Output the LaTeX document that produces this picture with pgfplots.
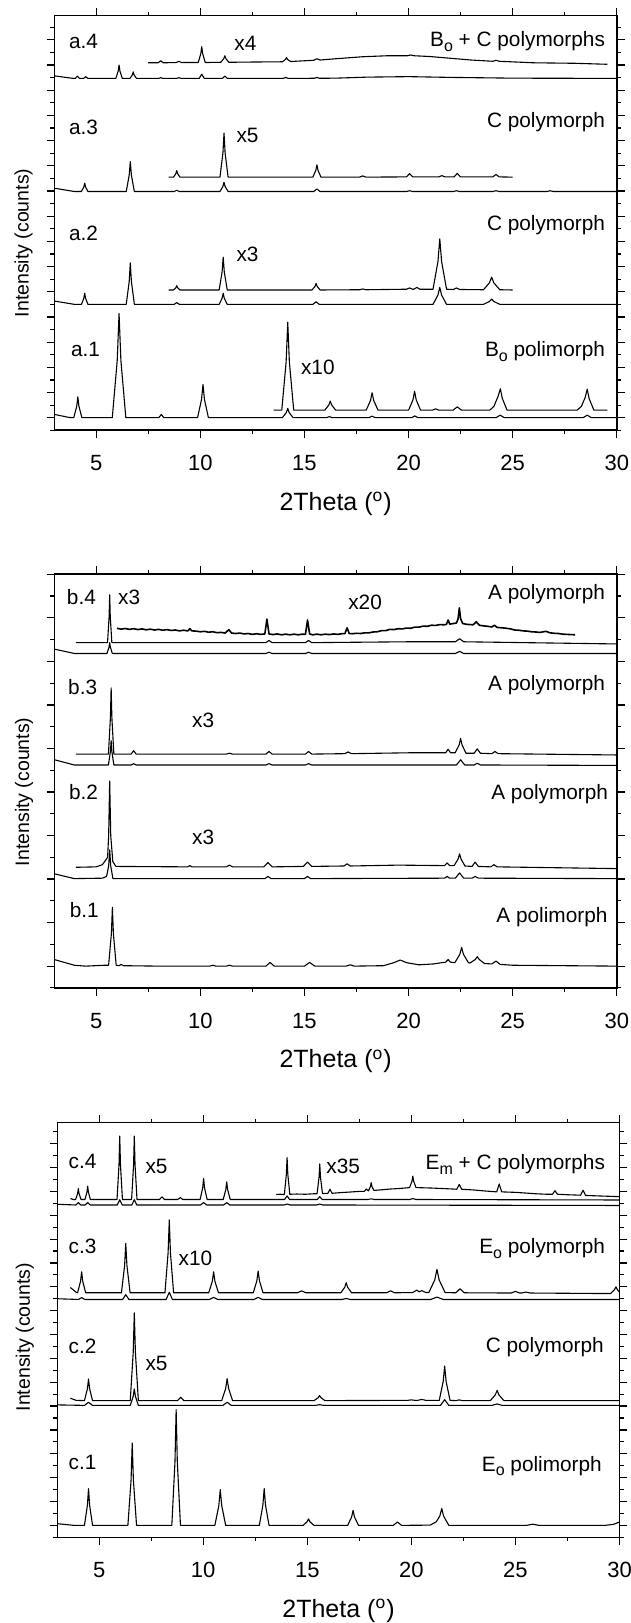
\documentclass[border=0pt]{standalone}
\usepackage{fontspec}
\setmainfont{Liberation Sans}
\usepackage{pgfplots}
\pgfplotsset{compat=1.18}
\newcommand{\ann}{\fontsize{10.4}{12}\selectfont}
\newcommand{\sub}[1]{\raisebox{-0.42ex}{\fontsize{8}{8}\selectfont #1}}
\tikzset{lbl/.style={font=\ann, inner sep=0pt}}
\pgfplotsset{
  xrd/.style={
    scale only axis, width=281.15pt, height=207.3pt,
    xmin=3, xmax=30, xtick={5,10,15,20,25,30}, minor x tick num=1,
    ymin=-0.5, minor y tick num=1, yticklabels={},
    tick align=outside, major tick length=3.9pt, minor tick length=2pt,
    axis line style={line width=0.8pt},
    every tick/.append style={line width=0.6pt, black},
    tick label style={font=\fontsize{11}{12}\selectfont},
    xticklabel style={anchor=base, yshift=-16.4pt},
    /pgf/number format/assume math mode=true,
    xlabel={2Theta (\textsuperscript{o})},
    xlabel style={font=\fontsize{12.5}{14}\selectfont, at={(axis description cs:0.5,0)}, anchor=base, yshift=-40pt},
    ylabel={Intensity (counts)},
    ylabel style={font=\fontsize{9.75}{11}\selectfont, anchor=center},
    clip=false, anchor=south west,
  },
  xrdline/.style={black, line width=0.55pt, no marks, line join=round},
}
\begin{document}
\begin{tikzpicture}
\path[use as bounding box] (0,0) rectangle (315.5pt,811.5pt);
% ---------------- Panel a ----------------
\begin{axis}[xrd, at={(27.25pt,596.35pt)}, ymax=15.96, ytick={-1,...,16},
  ylabel style={at={(axis description cs:-0.055,0.452)}}]
\addplot[xrdline] coordinates {(3.0,0.13)(3.7,0.01)(3.925,0)(4.0675,0.457)(4.12,0.83)(4.1725,0.457)(4.315,0)(5.775,0)(6.0125,2.277)(6.1,4.14)(6.1875,2.277)(6.425,0)(8.01,0)(8.13,0.13)(8.25,0)(9.87,0)(10.06,0.726)(10.13,1.32)(10.2,0.726)(10.39,0)(13.94,0)(14.13,0.2)(14.2,0.37)(14.27,0.2)(14.46,0)(16.05,0)(16.2,0.04)(16.35,0)(18.1,0)(18.25,0.06)(18.4,0)(20.15,0)(20.3,0.07)(20.45,0)(24.2,0)(24.4,0.1)(24.6,0)(28.38,0)(28.58,0.1)(28.78,0)(30,0)};
\addplot[xrdline] coordinates {(13.52,0.30)(13.914,0.30)(14.123,2.22)(14.2,3.79)(14.277,2.22)(14.486,0.30)(15.98,0.30)(16.17,0.50)(16.24,0.66)(16.31,0.50)(16.5,0.30)(17.964,0.30)(18.173,0.68)(18.25,0.99)(18.327,0.68)(18.536,0.30)(20.004,0.30)(20.213,0.71)(20.29,1.05)(20.367,0.71)(20.576,0.30)(21.15,0.30)(21.3,0.35)(21.45,0.30)(22.14,0.30)(22.34,0.43)(22.54,0.30)(23.9,0.30)(24.1,0.45)(24.3,0.85)(24.41,1.15)(24.5,0.77)(24.73,0.30)(28.1,0.30)(28.3,0.45)(28.48,0.8)(28.58,1.13)(28.67,0.76)(28.9,0.30)(29.55,0.30)};
\addplot[xrdline] coordinates {(3.0,4.63)(3.95,4.5)(4.294,4.5)(4.408,4.742)(4.45,4.94)(4.492,4.742)(4.606,4.5)(6.445,4.5)(6.5875,5.4075)(6.64,6.15)(6.6925,5.4075)(6.835,4.5)(8.75,4.5)(8.87,4.57)(8.99,4.5)(10.905,4.5)(11.0475,4.742)(11.1,4.94)(11.1525,4.742)(11.295,4.5)(15.41,4.5)(15.56,4.6)(15.71,4.5)(21.175,4.5)(21.4125,4.8685)(21.5,5.17)(21.5875,4.8685)(21.825,4.5)(23.6,4.5)(23.885,4.6155)(23.99,4.71)(24.095,4.6155)(24.38,4.5)(30,4.5)};
\addplot[xrdline] coordinates {(8.48,5.07)(8.714,5.07)(8.828,5.16)(8.87,5.24)(8.912,5.16)(9.026,5.07)(10.905,5.07)(11.0475,5.785)(11.1,6.37)(11.1525,5.785)(11.295,5.07)(15.365,5.07)(15.5075,5.213)(15.56,5.33)(15.6125,5.213)(15.755,5.07)(17.65,5.08)(17.8,5.11)(17.95,5.08)(19.9,5.1)(20.05,5.15)(20.2,5.1)(20.25,5.1)(20.4,5.17)(20.55,5.1)(21.175,5.1)(21.4125,6.2)(21.5,7.1)(21.5875,6.2)(21.825,5.1)(22.15,5.09)(22.3,5.15)(22.45,5.09)(23.6,5.08)(23.885,5.355)(23.99,5.58)(24.095,5.355)(24.38,5.08)(25.0,5.07)};
\addplot[xrdline] coordinates {(3.0,9.11)(3.95,8.98)(4.294,8.98)(4.408,9.16)(4.45,9.31)(4.492,9.16)(4.606,8.98)(6.445,8.98)(6.5875,9.63)(6.64,10.17)(6.6925,9.63)(6.835,8.98)(8.75,8.98)(8.87,9.03)(8.99,8.98)(10.945,8.98)(11.0875,9.18)(11.14,9.35)(11.1925,9.18)(11.335,8.98)(15.45,8.98)(15.6,9.08)(15.75,8.98)(19.9,8.98)(20.05,9.01)(20.2,8.98)(22.15,8.98)(22.3,9.01)(22.45,8.98)(24.05,8.98)(24.2,9.01)(24.35,8.98)(26.65,8.98)(26.8,9.01)(26.95,8.98)(30,8.98)};
\addplot[xrdline] coordinates {(8.48,9.55)(8.714,9.55)(8.828,9.69)(8.87,9.81)(8.912,9.69)(9.026,9.55)(10.945,9.55)(11.0875,10.51)(11.14,11.30)(11.1925,10.51)(11.335,9.55)(15.405,9.55)(15.5475,9.82)(15.6,10.04)(15.6525,9.82)(15.795,9.55)(17.65,9.55)(17.8,9.6)(17.95,9.55)(19.9,9.56)(20.05,9.69)(20.2,9.56)(21.45,9.56)(21.6,9.61)(21.75,9.56)(22.19,9.56)(22.34,9.70)(22.49,9.56)(24.05,9.56)(24.2,9.66)(24.35,9.56)(25.0,9.55)};
\addplot[xrdline] coordinates {(3.0,13.57)(3.9,13.47)(4.0,13.47)(4.1,13.56)(4.2,13.47)(4.4,13.47)(4.5,13.54)(4.6,13.47)(5.944,13.47)(6.058,13.76)(6.1,14.0)(6.142,13.76)(6.256,13.47)(6.624,13.47)(6.738,13.61)(6.78,13.73)(6.822,13.61)(6.936,13.47)(8.0,13.47)(8.1,13.5)(8.2,13.47)(8.87,13.47)(8.97,13.5)(9.07,13.47)(9.95,13.47)(10.07,13.64)(10.19,13.47)(11.06,13.47)(11.18,13.56)(11.3,13.47)(13.98,13.47)(14.1,13.51)(14.22,13.47)(15.48,13.475)(15.6,13.51)(15.72,13.475)(16.5,13.48)(18,13.52)(20,13.54)(22,13.51)(25,13.48)(30,13.47)};
\addplot[xrdline] coordinates {(7.5,14.09)(7.98,14.09)(8.1,14.17)(8.22,14.09)(8.85,14.1)(8.97,14.15)(9.09,14.1)(9.901,14.1)(10.0245,14.45)(10.07,14.73)(10.1155,14.45)(10.239,14.1)(10.985,14.11)(11.1275,14.25)(11.18,14.37)(11.2325,14.25)(11.375,14.11)(12.5,14.12)(13.945,14.13)(14.0875,14.22)(14.14,14.30)(14.1925,14.22)(14.335,14.14)(15.45,14.19)(15.6,14.25)(15.75,14.2)(16.5,14.25)(17.8,14.33)(19,14.37)(19.95,14.37)(20.1,14.40)(20.25,14.37)(21,14.34)(22,14.27)(23,14.2)(24.05,14.15)(24.2,14.19)(24.35,14.15)(26,14.09)(28,14.07)(29.55,14.03)};
\node[lbl, anchor=base west] at (axis cs:3.68,14.64) {a.4};
\node[lbl, anchor=base west] at (axis cs:11.62,14.57) {x4};
\node[lbl, anchor=base east] at (axis cs:29.45,14.74) {B\sub{o} + C polymorphs};
\node[lbl, anchor=base west] at (axis cs:3.68,11.23) {a.3};
\node[lbl, anchor=base west] at (axis cs:11.72,10.93) {x5};
\node[lbl, anchor=base east] at (axis cs:29.45,11.53) {C polymorph};
\node[lbl, anchor=base west] at (axis cs:3.68,7.03) {a.2};
\node[lbl, anchor=base west] at (axis cs:11.72,6.19) {x3};
\node[lbl, anchor=base east] at (axis cs:29.45,7.42) {C polymorph};
\node[lbl, anchor=base west] at (axis cs:3.78,2.43) {a.1};
\node[lbl, anchor=base west] at (axis cs:14.82,1.73) {x10};
\node[lbl, anchor=base east] at (axis cs:29.45,2.43) {B\sub{o} polimorph};
\end{axis}
% ---------------- Panel b ----------------
\begin{axis}[xrd, at={(27.25pt,317.55pt)}, height=206.8pt, ymax=9.0, ytick={-1,...,9},
  ylabel style={at={(axis description cs:-0.054,0.474)}}]
\addplot[xrdline] coordinates {(3.0,0.15)(3.95,0.02)(4.5,0.0)(5.4,0.02)(5.598,0.02)(5.731,0.74)(5.78,1.35)(5.829,0.74)(5.962,0.02)(6.1,0.01)(6.2,0.04)(6.3,0.01)(8,0)(10.45,0)(10.6,0.02)(10.75,0)(11.25,0)(11.4,0.02)(11.55,0)(13.15,0)(13.35,0.085)(13.55,0)(15.0,0)(15.25,0.085)(15.5,0)(17.0,0)(17.2,0.03)(17.4,0)(18.8,0.01)(19.3,0.08)(19.6,0.14)(19.9,0.08)(20.5,0.03)(21.2,0.05)(21.6,0.08)(21.78,0.09)(21.9,0.15)(22.02,0.09)(22.225,0.08)(22.4625,0.27)(22.55,0.43)(22.6375,0.27)(22.875,0.08)(22.95,0.07)(23.2,0.15)(23.3,0.215)(23.4,0.15)(23.65,0.06)(24.0,0.05)(24.2,0.115)(24.4,0.04)(25,0.02)(30,0.0)};
\addplot[xrdline] coordinates {(3.0,2.12)(3.95,2.01)(5.3,2.02)(5.5,2.06)(5.6,2.3)(5.65,2.67)(5.7,2.3)(5.806,2.01)(13.1,2.01)(13.25,2.06)(13.4,2.01)(15.0,2.01)(15.15,2.06)(15.3,2.01)(21.73,2.02)(21.85,2.06)(21.97,2.02)(22.25,2.02)(22.45,2.14)(22.65,2.02)(23.05,2.02)(23.2,2.06)(23.35,2.02)(30,2.01)};
\addplot[xrdline] coordinates {(4.03,2.27)(5.0,2.28)(5.3,2.33)(5.42,2.41)(5.55,2.5)(5.6,3.0)(5.65,4.25)(5.7,3.0)(5.8,2.4)(5.95,2.29)(9.4,2.28)(9.5,2.31)(9.6,2.28)(11.25,2.28)(11.4,2.32)(11.55,2.28)(13.05,2.28)(13.25,2.38)(13.45,2.28)(14.95,2.29)(15.15,2.39)(15.35,2.29)(16.9,2.3)(17.05,2.35)(17.2,2.3)(19.5,2.32)(21.5,2.31)(21.73,2.31)(21.85,2.37)(21.97,2.31)(22.19,2.31)(22.38,2.46)(22.45,2.58)(22.52,2.46)(22.71,2.30)(23.05,2.29)(23.2,2.39)(23.35,2.29)(23.95,2.28)(24.1,2.33)(24.25,2.28)(30,2.24)};
\addplot[xrdline] coordinates {(3.0,4.74)(3.95,4.62)(5.59,4.62)(5.685,4.93)(5.72,5.18)(5.755,4.93)(5.85,4.62)(6.68,4.62)(6.8,4.65)(6.92,4.62)(13.15,4.62)(13.3,4.65)(13.45,4.62)(15.05,4.62)(15.2,4.65)(15.35,4.62)(22.3,4.62)(22.5,4.74)(22.7,4.62)(23.15,4.62)(23.3,4.66)(23.45,4.62)(30,4.61)};
\addplot[xrdline] coordinates {(4.03,4.87)(5.59,4.87)(5.685,5.71)(5.72,6.39)(5.755,5.71)(5.85,4.87)(6.68,4.87)(6.8,4.95)(6.92,4.87)(11.25,4.87)(11.4,4.89)(11.55,4.87)(13.15,4.87)(13.3,4.93)(13.45,4.87)(15.05,4.87)(15.2,4.93)(15.35,4.87)(16.95,4.88)(17.1,4.92)(17.25,4.88)(20,4.9)(21.5,4.9)(21.78,4.9)(21.9,4.98)(22.02,4.9)(22.24,4.9)(22.43,5.08)(22.5,5.23)(22.57,5.08)(22.76,4.89)(23.15,4.89)(23.3,4.99)(23.45,4.89)(24.0,4.88)(24.15,4.93)(24.3,4.88)(30,4.85)};
\addplot[xrdline] coordinates {(3.0,7.28)(3.97,7.18)(5.52,7.18)(5.615,7.32)(5.65,7.43)(5.685,7.32)(5.78,7.18)(13.15,7.18)(13.3,7.21)(13.45,7.18)(15.05,7.18)(15.2,7.21)(15.35,7.18)(22.25,7.18)(22.45,7.23)(22.65,7.18)(30,7.18)};
\addplot[xrdline] coordinates {(4.03,7.43)(5.546,7.43)(5.622,8.02)(5.65,8.53)(5.678,8.02)(5.754,7.43)(13.15,7.43)(13.3,7.48)(13.45,7.43)(15.05,7.43)(15.2,7.48)(15.35,7.43)(20,7.45)(22.25,7.45)(22.45,7.52)(22.65,7.45)(30,7.40)};
\addplot[xrdline, line width=0.8pt] coordinates {(6.0,7.76)(6.2,7.74)(6.4,7.755)(6.6,7.735)(6.8,7.75)(7.0,7.73)(7.2,7.745)(7.4,7.725)(7.6,7.74)(7.8,7.72)(8.0,7.735)(8.2,7.715)(8.4,7.73)(8.6,7.71)(8.8,7.72)(9.0,7.70)(9.2,7.715)(9.4,7.70)(9.5,7.75)(9.6,7.70)(9.8,7.695)(10.0,7.68)(10.2,7.69)(10.4,7.67)(10.6,7.68)(10.8,7.66)(11.0,7.665)(11.2,7.65)(11.37,7.73)(11.5,7.65)(11.7,7.64)(11.9,7.65)(12.1,7.63)(12.3,7.64)(12.5,7.62)(12.7,7.635)(12.9,7.62)(13.1,7.63)(13.2,7.97)(13.3,7.63)(13.5,7.615)(13.7,7.63)(13.9,7.61)(14.1,7.625)(14.3,7.61)(14.5,7.625)(14.7,7.61)(14.9,7.625)(15.05,7.62)(15.15,7.95)(15.25,7.63)(15.4,7.61)(15.6,7.625)(15.8,7.61)(16.0,7.625)(16.2,7.615)(16.4,7.63)(16.6,7.62)(16.8,7.635)(16.95,7.64)(17.05,7.77)(17.15,7.64)(17.3,7.635)(17.5,7.645)(17.7,7.64)(17.9,7.655)(18.1,7.655)(18.3,7.675)(18.5,7.68)(18.7,7.705)(18.9,7.705)(19.1,7.735)(19.3,7.73)(19.5,7.75)(19.7,7.745)(19.9,7.765)(20.1,7.76)(20.3,7.785)(20.5,7.785)(20.7,7.81)(20.9,7.805)(21.1,7.83)(21.3,7.825)(21.5,7.845)(21.7,7.84)(21.82,7.85)(21.9,7.95)(21.98,7.855)(22.1,7.865)(22.3,7.88)(22.38,7.98)(22.44,8.23)(22.5,7.98)(22.6,7.87)(22.8,7.85)(22.95,7.845)(23.1,7.84)(23.25,7.91)(23.4,7.83)(23.6,7.815)(23.8,7.805)(24.0,7.79)(24.12,7.83)(24.25,7.78)(24.5,7.77)(24.7,7.76)(24.9,7.745)(25.1,7.72)(25.3,7.715)(25.5,7.70)(25.7,7.695)(25.9,7.68)(26.1,7.675)(26.3,7.665)(26.6,7.69)(26.8,7.655)(27.0,7.645)(27.2,7.64)(27.4,7.625)(27.6,7.62)(27.8,7.615)(28.0,7.61)};
\node[lbl, anchor=base west] at (axis cs:3.58,8.31) {b.4};
\node[lbl, anchor=base west] at (axis cs:6.04,8.30) {x3};
\node[lbl, anchor=base west] at (axis cs:17.09,8.18) {x20};
\node[lbl, anchor=base east] at (axis cs:29.45,8.43) {A polymorph};
\node[lbl, anchor=base west] at (axis cs:3.64,6.24) {b.3};
\node[lbl, anchor=base east] at (axis cs:29.45,6.33) {A polymorph};
\node[lbl, anchor=base west] at (axis cs:9.59,5.47) {x3};
\node[lbl, anchor=base west] at (axis cs:3.68,3.83) {b.2};
\node[lbl, anchor=base east] at (axis cs:29.6,3.83) {A polymorph};
\node[lbl, anchor=base west] at (axis cs:9.59,2.80) {x3};
\node[lbl, anchor=base west] at (axis cs:3.72,1.12) {b.1};
\node[lbl, anchor=base east] at (axis cs:29.57,1.01) {A polimorph};
\end{axis}
% ---------------- Panel c ----------------
\begin{axis}[xrd, at={(28.75pt,42.85pt)}, width=281pt, ymax=16.88, ytick={-1,...,17},
  ylabel style={at={(axis description cs:-0.058,0.483)}}]
\addplot[xrdline] coordinates {(3.0,0.07)(3.8,0.0)(4.295,0)(4.4375,0.847)(4.49,1.54)(4.5425,0.847)(4.685,0)(6.382,0)(6.534,1.898)(6.59,3.45)(6.646,1.898)(6.798,0)(8.492,0)(8.644,2.668)(8.7,4.85)(8.756,2.668)(8.908,0)(10.56,0)(10.75,0.825)(10.82,1.5)(10.89,0.825)(11.08,0)(12.696,0)(12.867,0.847)(12.93,1.54)(12.993,0.847)(13.164,0)(14.8,0)(14.99,0.15)(15.06,0.27)(15.13,0.15)(15.32,0)(16.94,0)(17.13,0.35)(17.2,0.63)(17.27,0.35)(17.46,0)(19.13,0)(19.33,0.14)(19.53,0)(20.9,0.01)(21.2,0.15)(21.37,0.4)(21.46,0.71)(21.55,0.39)(21.8,0)(25.53,0)(25.83,0.05)(26.13,0)(29.3,0)(29.7,0.04)(30,0.14)};
\addplot[xrdline] coordinates {(3.0,5.05)(4.3,5.03)(4.49,5.16)(4.68,5.03)(6.495,5.03)(6.6375,5.41)(6.69,5.72)(6.7425,5.41)(6.885,5.03)(10.95,5.03)(11.15,5.16)(11.35,5.03)(15.39,5.03)(15.59,5.06)(15.79,5.03)(21.4,5.03)(21.6,5.27)(21.8,5.03)(23.87,5.03)(24.12,5.09)(24.37,5.03)(30,5.03)};
\addplot[xrdline] coordinates {(3.62,5.33)(3.9,5.24)(4.295,5.23)(4.4375,5.73)(4.49,6.14)(4.5425,5.73)(4.685,5.23)(6.495,5.23)(6.6375,7.25)(6.69,8.91)(6.7425,7.25)(6.885,5.23)(8.77,5.23)(8.92,5.37)(9.07,5.23)(10.89,5.23)(11.08,5.74)(11.15,6.15)(11.22,5.74)(11.41,5.23)(15.33,5.23)(15.52,5.35)(15.59,5.44)(15.66,5.35)(15.85,5.23)(19.8,5.24)(20.0,5.26)(20.2,5.24)(20.3,5.24)(20.5,5.28)(20.7,5.24)(21.34,5.24)(21.53,6.03)(21.6,6.68)(21.67,6.03)(21.86,5.24)(22.15,5.23)(22.3,5.26)(22.45,5.23)(23.795,5.23)(24.0325,5.47)(24.12,5.66)(24.2075,5.47)(24.445,5.23)(30,5.23)};
\addplot[xrdline] coordinates {(3.0,9.5)(4.01,9.47)(4.16,9.55)(4.31,9.47)(6.13,9.47)(6.28,9.67)(6.43,9.47)(8.22,9.47)(8.37,9.77)(8.52,9.47)(10.3,9.47)(10.5,9.56)(10.7,9.47)(12.44,9.47)(12.64,9.56)(12.84,9.47)(16.67,9.47)(16.87,9.51)(17.07,9.47)(20.93,9.47)(21.23,9.57)(21.53,9.47)(30,9.47)};
\addplot[xrdline] coordinates {(3.62,9.97)(3.9,9.77)(3.965,9.75)(4.1075,10.23)(4.16,10.63)(4.2125,10.23)(4.355,9.75)(6.072,9.75)(6.224,10.89)(6.28,11.82)(6.336,10.89)(6.488,9.75)(8.162,9.75)(8.314,11.43)(8.37,12.8)(8.426,11.43)(8.578,9.75)(10.266,9.75)(10.437,10.23)(10.5,10.63)(10.563,10.23)(10.734,9.75)(12.406,9.75)(12.577,10.25)(12.64,10.66)(12.703,10.25)(12.874,9.75)(14.53,9.75)(14.73,9.83)(14.93,9.75)(16.61,9.75)(16.8,9.98)(16.87,10.17)(16.94,9.98)(17.13,9.75)(18.8,9.75)(19.0,9.83)(19.2,9.75)(20.06,9.76)(20.26,9.86)(20.38,9.79)(20.5,9.84)(20.7,9.76)(20.84,9.76)(21.125,10.29)(21.23,10.73)(21.335,10.29)(21.62,9.76)(22.14,9.75)(22.34,9.92)(22.54,9.75)(24.8,9.74)(25.0,9.81)(25.2,9.74)(25.3,9.74)(25.5,9.78)(25.7,9.74)(29.0,9.72)(29.57,9.72)(29.76,9.88)(29.83,10.0)(29.9,9.88)(30,9.78)};
\addplot[xrdline] coordinates {(3.0,13.46)(3.88,13.43)(4.0,13.53)(4.12,13.43)(4.33,13.43)(4.45,13.53)(4.57,13.43)(5.87,13.43)(5.99,13.65)(6.11,13.43)(6.57,13.43)(6.69,13.65)(6.81,13.43)(9.87,13.43)(10.02,13.53)(10.17,13.43)(10.98,13.43)(11.13,13.53)(11.28,13.43)(13.88,13.43)(14.03,13.47)(14.18,13.43)(15.45,13.43)(15.6,13.47)(15.75,13.43)(30,13.41)};
\addplot[xrdline] coordinates {(3.62,13.7)(3.8,13.65)(3.87,13.66)(3.965,13.91)(4.0,14.12)(4.035,13.91)(4.13,13.66)(4.32,13.66)(4.415,13.97)(4.45,14.22)(4.485,13.97)(4.58,13.66)(5.86,13.66)(5.955,15.12)(5.99,16.32)(6.025,15.12)(6.12,13.66)(6.56,13.66)(6.655,15.12)(6.69,16.32)(6.725,15.12)(6.82,13.66)(7.9,13.66)(8.02,13.77)(8.14,13.66)(8.78,13.66)(8.9,13.74)(9.02,13.66)(9.851,13.66)(9.9745,14.14)(10.02,14.54)(10.0655,14.14)(10.189,13.66)(10.961,13.66)(11.0845,14.07)(11.13,14.40)(11.1755,14.07)(11.299,13.66)(13.91,13.66)(14.03,13.81)(14.15,13.66)(15.48,13.66)(15.6,13.78)(15.72,13.66)(17.92,13.66)(18.07,13.69)(18.22,13.66)(19.92,13.66)(20.07,13.7)(20.22,13.66)(30,13.64)};
\addplot[xrdline] coordinates {(13.51,13.87)(13.7,13.88)(13.9,13.87)(13.995,14.72)(14.03,15.42)(14.065,14.72)(14.16,13.88)(14.5,13.89)(14.9,13.88)(15.3,13.9)(15.47,13.9)(15.565,14.59)(15.6,15.15)(15.635,14.59)(15.73,13.91)(15.99,13.92)(16.09,14.09)(16.19,13.92)(16.6,13.95)(17.0,13.97)(17.5,14.0)(17.74,14.0)(17.84,14.1)(17.94,14.02)(18.035,14.21)(18.07,14.37)(18.105,14.21)(18.2,14.04)(18.6,14.07)(19.0,14.1)(19.4,14.12)(19.8,14.15)(19.914,14.16)(20.028,14.42)(20.07,14.64)(20.112,14.42)(20.226,14.16)(20.6,14.15)(21.0,14.14)(21.5,14.12)(22.0,14.1)(22.18,14.09)(22.3,14.29)(22.42,14.09)(23.0,14.06)(23.5,14.02)(24.1,13.98)(24.22,14.31)(24.34,13.98)(25.0,13.96)(25.5,13.93)(26.0,13.9)(26.5,13.88)(26.78,13.88)(26.9,14.03)(27.02,13.88)(27.5,13.86)(28.13,13.84)(28.25,14.05)(28.37,13.83)(29.0,13.81)(30,13.78)};
\node[lbl, anchor=base west] at (axis cs:3.52,14.94) {c.4};
\node[lbl, anchor=base west] at (axis cs:7.21,14.76) {x5};
\node[lbl, anchor=base west] at (axis cs:15.9,14.76) {x35};
\node[lbl, anchor=base east] at (axis cs:29.32,14.92) {E\sub{m} + C polymorphs};
\node[lbl, anchor=base west] at (axis cs:3.52,11.38) {c.3};
\node[lbl, anchor=base west] at (axis cs:8.8,10.89) {x10};
\node[lbl, anchor=base east] at (axis cs:29.32,11.38) {E\sub{o} polymorph};
\node[lbl, anchor=base west] at (axis cs:3.52,7.21) {c.2};
\node[lbl, anchor=base west] at (axis cs:7.21,6.51) {x5};
\node[lbl, anchor=base east] at (axis cs:29.26,7.25) {C polymorph};
\node[lbl, anchor=base west] at (axis cs:3.52,2.34) {c.1};
\node[lbl, anchor=base east] at (axis cs:29.17,2.27) {E\sub{o} polimorph};
\end{axis}
\end{tikzpicture}
\end{document}
